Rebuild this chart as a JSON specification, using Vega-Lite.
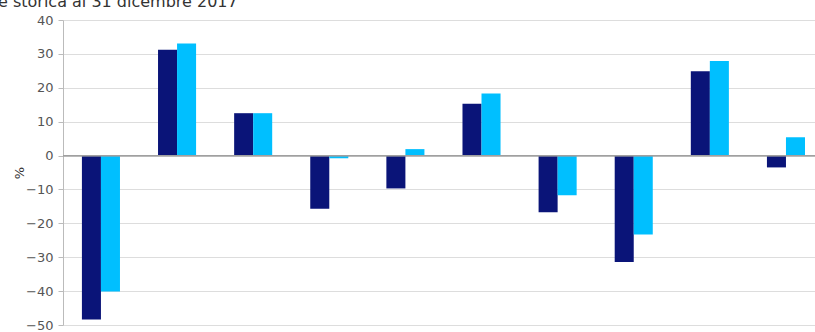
{
  "$schema": "https://vega.github.io/schema/vega-lite/v6.json",
  "width": 752,
  "height": 305,
  "autosize": "none",
  "padding": {"left": 63, "top": 20, "right": 0, "bottom": 7},
  "background": "white",
  "title": {
    "text": "e storica al 31 dicembre 2017",
    "anchor": "start",
    "frame": "group",
    "dx": -65,
    "dy": 15,
    "offset": 6,
    "baseline": "alphabetic",
    "fontSize": 16,
    "fontWeight": "normal",
    "color": "#333333",
    "font": "DejaVu Sans"
  },
  "config": {"view": {"stroke": null}},
  "data": {
    "values": [
      {"g": 1, "s": "A", "v": -48.4}, {"g": 1, "s": "B", "v": -40.1},
      {"g": 2, "s": "A", "v": 31.2}, {"g": 2, "s": "B", "v": 33.1},
      {"g": 3, "s": "A", "v": 12.5}, {"g": 3, "s": "B", "v": 12.5},
      {"g": 4, "s": "A", "v": -15.7}, {"g": 4, "s": "B", "v": -0.8},
      {"g": 5, "s": "A", "v": -9.7}, {"g": 5, "s": "B", "v": 1.9},
      {"g": 6, "s": "A", "v": 15.3}, {"g": 6, "s": "B", "v": 18.3},
      {"g": 7, "s": "A", "v": -16.7}, {"g": 7, "s": "B", "v": -11.7},
      {"g": 8, "s": "A", "v": -31.4}, {"g": 8, "s": "B", "v": -23.3},
      {"g": 9, "s": "A", "v": 24.9}, {"g": 9, "s": "B", "v": 27.9},
      {"g": 10, "s": "A", "v": -3.5}, {"g": 10, "s": "B", "v": 5.4}
    ]
  },
  "layer": [
    {
      "mark": {"type": "bar"},
      "encoding": {
        "x": {
          "field": "g",
          "type": "ordinal",
          "scale": {"paddingInner": 0.5, "paddingOuter": 0.19, "align": 0.654},
          "axis": null
        },
        "xOffset": {"field": "s", "type": "nominal", "scale": {"paddingInner": 0, "paddingOuter": 0}},
        "y": {
          "field": "v",
          "type": "quantitative",
          "scale": {"domain": [-50, 40], "nice": false, "zero": false},
          "axis": {
            "tickCount": 10,
            "labelOverlap": false,
            "labelBound": false,
            "title": "%",
            "titleFont": "DejaVu Sans",
            "titleFontSize": 13,
            "titleFontWeight": "normal",
            "titleColor": "#333333",
            "titlePadding": -1,
            "labelFont": "DejaVu Sans",
            "labelFontSize": 13,
            "labelColor": "#555555",
            "labelPadding": 5,
            "gridColor": "#dddddd",
            "domainColor": "#bbbbbb",
            "tickColor": "#bbbbbb",
            "tickSize": 5
          }
        },
        "color": {
          "field": "s",
          "type": "nominal",
          "scale": {"domain": ["A", "B"], "range": ["#0a1478", "#00bfff"]},
          "legend": null
        }
      }
    },
    {
      "mark": {"type": "rule", "color": "#a0a0a0", "strokeWidth": 1},
      "encoding": {"y": {"datum": 0}}
    }
  ]
}
